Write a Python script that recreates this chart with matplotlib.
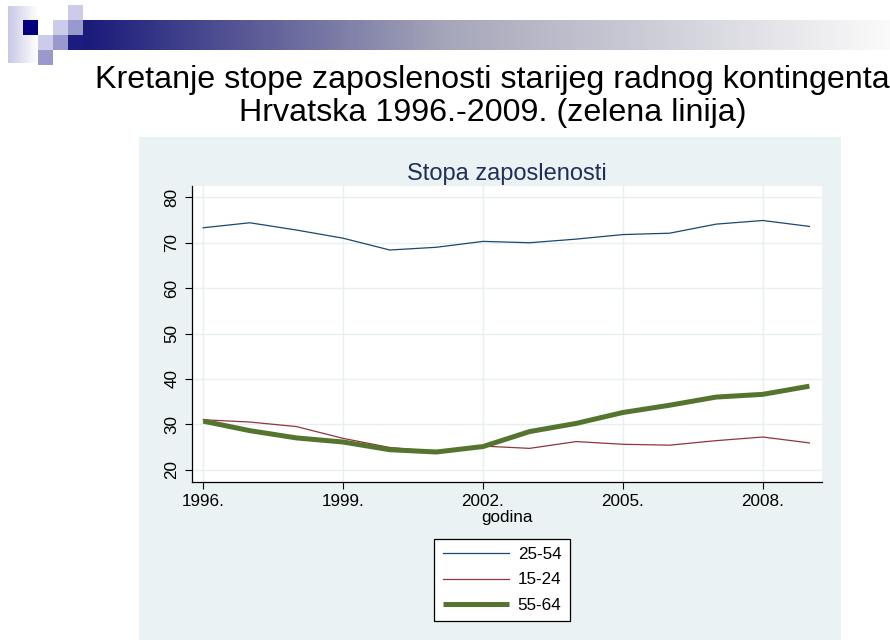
import numpy as np
import matplotlib
matplotlib.use("Agg")
import matplotlib.pyplot as plt
from matplotlib.patches import Rectangle
from matplotlib.colors import LinearSegmentedColormap

plt.rcParams['font.family'] = ['Liberation Sans', 'DejaVu Sans']

# data
years = list(range(1996, 2010))
emp_25_54 = [73.3, 74.4, 72.8, 71.0, 68.4, 69.0, 70.3, 70.0, 70.8, 71.8, 72.1, 74.1, 74.9, 73.6]
emp_15_24 = [31.0, 30.5, 29.5, 26.9, 24.9, 24.0, 25.2, 24.7, 26.2, 25.6, 25.4, 26.4, 27.2, 25.9]
emp_55_64 = [30.7, 28.6, 27.0, 26.1, 24.4, 23.9, 25.1, 28.4, 30.2, 32.6, 34.2, 36.0, 36.6, 38.4]
series_labels = ['25-54', '15-24', '55-64']
xticks = [1996, 1999, 2002, 2005, 2008]
xticklabels = ['1996.', '1999.', '2002.', '2005.', '2008.']
yticks = [20, 30, 40, 50, 60, 70, 80]

W, H = 890, 640
fig = plt.figure(figsize=(W / 100, H / 100), dpi=100)

def px(x0, y0, x1, y1):
    # pixel box -> figure fraction rect
    return [x0 / W, 1 - y1 / H, (x1 - x0) / W, (y1 - y0) / H]

# stata-like graph region (drawn first, behind the plot)
bg = fig.add_axes(px(139, 137, 841, 640), zorder=-1)
bg.set_facecolor('#eaf2f3')
bg.set_xticks([]); bg.set_yticks([])
for s in bg.spines.values():
    s.set_visible(False)

# slide header decoration
lav = '#ccccea'
mid = '#9999cc'
navy = '#000080'
dark = '#1c1c80'
strip = fig.add_axes(px(8, 6, 38, 63))
strip.imshow(np.linspace(0, 1, 100).reshape(1, -1), aspect='auto',
             cmap=LinearSegmentedColormap.from_list('s', ['#c8c8e6', '#ffffff']))
strip.axis('off')
cells = [(68, 5, lav), (23, 20, navy), (53, 20, lav), (68, 20, mid),
         (38, 35, lav), (53, 35, mid), (68, 35, dark), (38, 50, mid)]
for cx, cy, c in cells:
    fig.patches.append(Rectangle((cx / W, 1 - (cy + 15) / H), 15 / W, 15 / H,
                                 transform=fig.transFigure, facecolor=c, edgecolor='none', zorder=3))
bar = fig.add_axes(px(83, 20, 890, 50))
bar.imshow(np.linspace(0, 1, 400).reshape(1, -1), aspect='auto',
           cmap=LinearSegmentedColormap.from_list('g', [(0, '#1a1a7a'), (0.45, '#a6a6ba'), (1, '#fafafa')]))
bar.axis('off')

fig.text(492 / W, 1 - 80 / H, 'Kretanje stope zaposlenosti starijeg radnog kontingenta',
         ha='center', va='center', fontsize=23.2, color='black')
fig.text(493 / W, 1 - 113 / H, 'Hrvatska 1996.-2009. (zelena linija)',
         ha='center', va='center', fontsize=23.2, color='black')

ax = fig.add_axes(px(192, 186, 822, 481.5))
ax.set_facecolor('white')
ax.plot(years, emp_25_54, color='#1a476f', lw=0.9, label=series_labels[0])
ax.plot(years, emp_15_24, color='#90353b', lw=0.9, label=series_labels[1])
ax.plot(years, emp_55_64, color='#55752f', lw=3.6, label=series_labels[2], solid_capstyle='butt')

ax.set_xlim(1995.76, 2009.27)
ax.set_ylim(17.4, 82.5)
ax.set_xticks(xticks)
ax.set_xticklabels(xticklabels)
ax.set_yticks(yticks)
ax.set_yticklabels([str(v) for v in yticks], rotation=90, va='center')
ax.grid(True, color='#e6eff1', lw=1.0)
ax.set_axisbelow(True)
for s in ['top', 'right']:
    ax.spines[s].set_visible(False)
for s in ['left', 'bottom']:
    ax.spines[s].set_color('black')
    ax.spines[s].set_linewidth(0.9)
ax.tick_params(direction='out', length=5, width=0.8, labelsize=12.3, pad=4)
ax.set_xlabel('godina', fontsize=12.3, labelpad=1)
ax.set_title('Stopa zaposlenosti', fontsize=17, color='#1e2f5a', pad=4)

leg = fig.legend(loc='center', bbox_to_anchor=(502 / W, 1 - 580 / H), fontsize=12.3,
                 frameon=True, fancybox=False, handlelength=3.9, handletextpad=0.5,
                 labelspacing=0.6, borderpad=0.5, borderaxespad=0)
leg.get_frame().set_edgecolor('black')
leg.get_frame().set_linewidth(0.9)
leg.get_frame().set_facecolor('white')
leg.get_frame().set_alpha(1)

fig.savefig('out.png', dpi=100)
